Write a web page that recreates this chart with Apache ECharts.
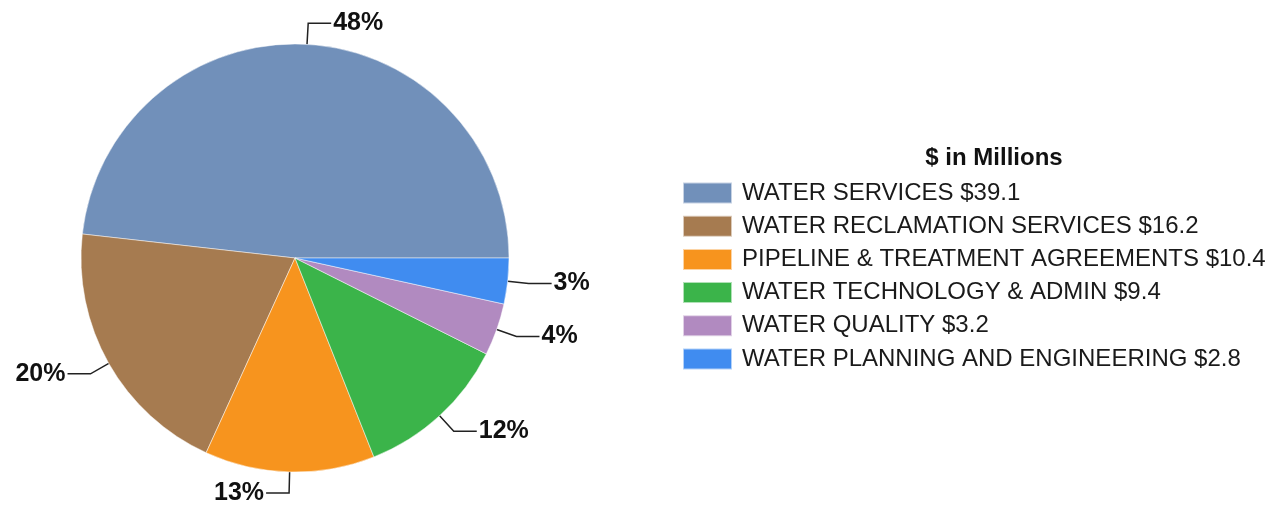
<!DOCTYPE html>
<html>
<head>
<meta charset="utf-8">
<script src="https://cdn.jsdelivr.net/npm/echarts@6/dist/echarts.min.js"></script>
<style>
  html, body { margin: 0; padding: 0; background: #ffffff; }
  #chart { width: 1273px; height: 506px; }
</style>
</head>
<body>
<div id="chart"></div>
<script>
// Budget split by division ($ in millions)
const categories = [
  'WATER SERVICES',
  'WATER RECLAMATION SERVICES',
  'PIPELINE & TREATMENT AGREEMENTS',
  'WATER TECHNOLOGY & ADMIN',
  'WATER QUALITY',
  'WATER PLANNING AND ENGINEERING'
];
const amounts = [39.1, 16.2, 10.4, 9.4, 3.2, 2.8];
const sliceColors = ['#7190BA', '#A67B50', '#F7941E', '#3BB44A', '#B18AC0', '#408CF0'];
const legendTitle = '$ in Millions';

const chart = echarts.init(document.getElementById('chart'), null, { renderer: 'canvas' });

const pieData = categories.map((name, i) => ({ name: name, value: amounts[i] }));
const amountByName = {};
categories.forEach((name, i) => { amountByName[name] = amounts[i]; });

chart.setOption({
  animation: false,
  color: sliceColors,
  title: {
    text: legendTitle,
    left: 994,
    top: 146,
    padding: 0,
    textAlign: 'center',
    textStyle: {
      fontFamily: 'Liberation Sans, Arial, sans-serif',
      fontSize: 24,
      fontWeight: 'bold',
      color: '#111111'
    }
  },
  legend: {
    orient: 'vertical',
    left: 682,
    top: 181,
    padding: 0,
    itemWidth: 49,
    itemHeight: 21,
    itemGap: 9.2,
    icon: 'rect',
    selectedMode: false,
    data: categories,
    formatter: name => name + ' $' + amountByName[name],
    textStyle: {
      fontFamily: 'Liberation Sans, Arial, sans-serif',
      fontSize: 24,
      lineHeight: 21,
      color: '#1a1a1a',
      padding: [0, 0, 0, 5]
    }
  },
  series: [{
    type: 'pie',
    center: [295, 258],
    radius: 214,
    startAngle: 0,
    clockwise: false,
    avoidLabelOverlap: false,
    itemStyle: { borderColor: 'rgba(255,255,255,0.6)', borderWidth: 0.8 },
    label: {
      show: true,
      position: 'outside',
      formatter: p => Math.round(p.percent) + '%',
      fontFamily: 'Liberation Sans, Arial, sans-serif',
      fontSize: 25,
      fontWeight: 'bold',
      color: '#111111',
      distanceToLabelLine: 2
    },
    labelLine: {
      show: true,
      length: 21,
      length2: 23,
      lineStyle: { color: '#222222', width: 1.5 }
    },
    emphasis: { disabled: true },
    data: pieData
  }]
});
</script>
</body>
</html>
